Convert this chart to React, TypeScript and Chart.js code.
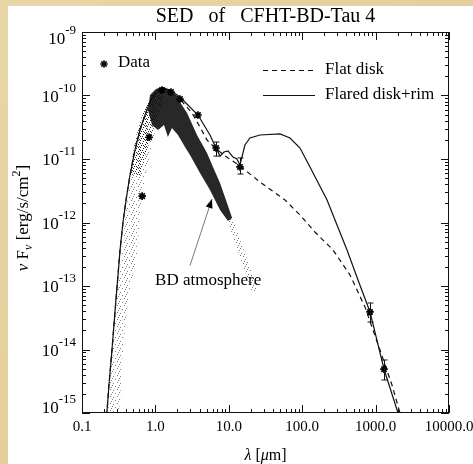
import React, { useEffect, useRef } from "react";
import { Chart, registerables } from "chart.js";

Chart.register(...registerables);

const FONT = '"Liberation Serif", "Times New Roman", serif';

// Axis ticks
const xTickValues = [0.1, 1, 10, 100, 1000, 10000];
const xTickLabels = ["0.1", "1.0", "10.0", "100.0", "1000.0", "10000.0"];
const yTickValues = [1e-15, 1e-14, 1e-13, 1e-12, 1e-11, 1e-10, 1e-9];
const yTickExponents = ["-15", "-14", "-13", "-12", "-11", "-10", "-9"];

// Observed photometry (lambda in micron, nuFnu in erg/s/cm^2)
const dataLambda = [0.66, 0.82, 1.23, 1.63, 2.16, 3.8, 6.7, 14.2, 839, 1300];
const dataFlux = [2.6e-12, 2.2e-11, 1.22e-10, 1.13e-10, 8.8e-11, 4.93e-11, 1.49e-11, 7.5e-12, 3.9e-14, 4.9e-15];
const dataErrLow = [null, null, null, null, null, null, 1.11e-11, 5.8e-12, 2.71e-14, 3.31e-15];
const dataErrHigh = [null, null, null, null, null, null, 1.85e-11, 1.04e-11, 5.4e-14, 6.84e-15];

// Shared rising (photospheric) part of both models
const riseLambda = [0.212, 0.233, 0.256, 0.29, 0.33, 0.362, 0.398, 0.451, 0.527, 0.617, 0.722, 0.844, 0.988, 1.12, 1.27];
const riseFlux = [6.5e-16, 2.76e-15, 9.8e-15, 6.0e-14, 3.7e-13, 1.02e-12, 2.26e-12, 5.6e-12, 1.39e-11, 2.86e-11, 4.93e-11, 7.9e-11, 1.06e-10, 1.27e-10, 1.31e-10];

// Flared disk + rim (solid)
const flaredLambda = [1.58, 2.16, 3.8, 5.54, 6.69, 7.59, 8.6, 9.75, 11.4, 12.9, 14.2, 16.6, 19.4, 26.6, 49.8, 68.2, 93.3, 127.7, 218, 298, 408, 576, 839, 1301, 2019, 2200];
const flaredFlux = [1.22e-10, 9.47e-11, 4.93e-11, 2.39e-11, 1.49e-11, 1.11e-11, 1.29e-11, 1.34e-11, 1.07e-11, 1.0e-11, 8.05e-12, 1.66e-11, 2.14e-11, 2.39e-11, 2.48e-11, 2.14e-11, 1.49e-11, 7.5e-12, 2.26e-12, 9.13e-13, 3.69e-13, 1.24e-13, 3.9e-14, 4.93e-15, 1.0e-15, 6.0e-16];

// Flat disk (dashed)
const flatLambda = [1.58, 2.16, 3.15, 4.05, 5.05, 6.69, 9.75, 14.2, 26.6, 58.3, 93.3, 149, 263, 448, 717, 1148, 1673, 2150, 2300];
const flatFlux = [1.18e-10, 8.81e-11, 5.3e-11, 3.19e-11, 1.99e-11, 1.44e-11, 1.04e-11, 7.76e-12, 4.34e-12, 2.26e-12, 1.31e-12, 7.09e-13, 3.69e-13, 1.49e-13, 4.67e-14, 9.8e-15, 2.76e-15, 1.0e-15, 6.0e-16];

// BD atmosphere spectrum envelopes (outlines of the dotted spectrum)
const bdLeftLambda = [0.226, 0.256, 0.3, 0.351, 0.41, 0.451, 0.527, 0.678, 0.899, 1.155, 1.35, 1.155, 0.927, 0.745, 0.617, 0.579, 0.424, 0.362, 0.33, 0.319];
const bdLeftFlux = [1e-15, 9.8e-15, 6.0e-14, 3.7e-13, 2.26e-12, 6.0e-12, 2.0e-11, 5.3e-11, 1.02e-10, 1.31e-10, 1.02e-10, 5.3e-11, 2.0e-11, 6.0e-12, 1.57e-12, 3.7e-13, 6.0e-14, 9.8e-15, 1.6e-15, 1e-15];
const bdUpperLambda = [0.451, 0.527, 0.678, 0.899, 1.155, 1.27, 1.019, 0.793, 0.617];
const bdUpperFlux = [5.6e-12, 2.0e-11, 5.3e-11, 1.02e-10, 1.31e-10, 8.49e-11, 4.11e-11, 1.66e-11, 5.6e-12];
const bdDarkLambda = [0.793, 0.844, 1.019, 1.27, 1.58, 1.91, 2.7, 3.69, 5.05, 6.09, 7.59, 9.45, 11.1, 9.75, 7.59, 5.54, 4.05, 2.96, 2.53, 2.03, 1.68, 1.48, 1.31, 1.085, 0.899];
const bdDarkFlux = [5.91e-11, 1.02e-10, 1.27e-10, 1.36e-10, 1.22e-10, 9.82e-11, 5.3e-11, 2.39e-11, 1.24e-11, 7.48e-12, 4.19e-12, 2.03e-12, 1.18e-12, 1.06e-12, 1.57e-12, 3.25e-12, 6.02e-12, 1.16e-11, 1.55e-11, 2.39e-11, 3.08e-11, 2.22e-11, 3.43e-11, 2.86e-11, 3.43e-11];
const bdTailLambda = [9.75, 11.4, 25.0, 20.7, 9.75];
const bdTailFlux = [1.31e-12, 1.09e-12, 8.65e-14, 8.04e-14, 1.02e-12];

// Annotation
const arrowTail = [2.96, 2.1e-13];
const arrowHead = [5.9, 2.34e-12];
const annotationText = "BD atmosphere";
const annotationPos = [0.99, 1.24e-13];

const titleText = "SED   of   CFHT-BD-Tau 4";

const pts = (xs: number[], ys: number[]) => xs.map((x, i) => ({ x, y: ys[i] }));

function drawStar(ctx: CanvasRenderingContext2D, x: number, y: number, r: number) {
  ctx.beginPath();
  ctx.moveTo(x - r, y); ctx.lineTo(x + r, y);
  ctx.moveTo(x, y - r); ctx.lineTo(x, y + r);
  const d = r * 0.7071;
  ctx.moveTo(x - d, y - d); ctx.lineTo(x + d, y + d);
  ctx.moveTo(x - d, y + d); ctx.lineTo(x + d, y - d);
  ctx.stroke();
}

function speckle(alphaDots: number, density: number): CanvasPattern | string {
  // deterministic stipple texture for the densely sampled model spectrum
  const c = document.createElement("canvas");
  c.width = 7; c.height = 7;
  const g = c.getContext("2d");
  if (!g) return `rgba(0,0,0,${alphaDots})`;
  const cells = [[0, 0], [3, 1], [5, 4], [1, 5], [6, 2], [2, 3], [4, 6], [0, 3], [5, 0], [3, 5], [6, 6], [1, 1], [4, 2], [2, 6]];
  g.fillStyle = `rgba(0,0,0,${alphaDots})`;
  cells.slice(0, density).forEach(([x, y]) => g.fillRect(x, y, 1, 1));
  const p = g.createPattern(c, "repeat");
  return p || `rgba(0,0,0,${alphaDots})`;
}

const overlayPlugin = {
  id: "overlay",
  beforeDraw(chart: any) {
    const { ctx, width, height } = chart;
    ctx.save();
    const g = ctx.createLinearGradient(0, 0, width, height);
    g.addColorStop(0, "#e9d6a6");
    g.addColorStop(0.5, "#e4cf9c");
    g.addColorStop(1, "#e8d5a5");
    ctx.fillStyle = g;
    ctx.fillRect(0, 0, width, height);
    ctx.fillStyle = "#ffffff";
    ctx.fillRect(8, 6, width - 8, height - 6);
    ctx.restore();
  },
  afterDraw(chart: any) {
    const { ctx, chartArea: a, scales } = chart;
    const xs = scales.x;
    const ys = scales.y;
    ctx.save();
    ctx.strokeStyle = "#111";
    ctx.fillStyle = "#000";
    ctx.lineWidth = 1;

    // frame
    ctx.strokeRect(a.left + 0.5, a.top + 0.5, a.right - a.left - 1, a.bottom - a.top - 1);

    // ticks
    ctx.beginPath();
    for (let d = -1; d <= 4; d++) {
      for (let m = 1; m <= 9; m++) {
        const v = m * Math.pow(10, d);
        if (v > 10000 * 1.0001) break;
        const px = Math.round(xs.getPixelForValue(v)) + 0.5;
        const len = m === 1 ? 8 : 4;
        ctx.moveTo(px, a.bottom); ctx.lineTo(px, a.bottom - len);
        ctx.moveTo(px, a.top); ctx.lineTo(px, a.top + len);
      }
    }
    for (let d = -15; d <= -9; d++) {
      for (let m = 1; m <= 9; m++) {
        const v = m * Math.pow(10, d);
        if (v > 1e-9 * 1.0001) break;
        const py = Math.round(ys.getPixelForValue(v)) + 0.5;
        const len = m === 1 ? 8 : 4;
        ctx.moveTo(a.left, py); ctx.lineTo(a.left + len, py);
        ctx.moveTo(a.right, py); ctx.lineTo(a.right - len, py);
      }
    }
    ctx.stroke();

    // y tick labels 10^n
    ctx.textAlign = "left";
    ctx.textBaseline = "alphabetic";
    yTickValues.forEach((v, i) => {
      const py = ys.getPixelForValue(v);
      const cy = Math.min(Math.max(py, a.top + 6), a.bottom - 6);
      const exp = yTickExponents[i];
      ctx.font = `17px ${FONT}`;
      const wb = ctx.measureText("10").width;
      ctx.font = `13px ${FONT}`;
      const we = ctx.measureText(exp).width;
      const xb = a.left - 6 - we - wb;
      ctx.font = `17px ${FONT}`;
      ctx.fillText("10", xb, cy + 6);
      ctx.font = `13px ${FONT}`;
      ctx.fillText(exp, xb + wb, cy - 4);
    });

    // error bars
    ctx.beginPath();
    dataLambda.forEach((l, i) => {
      const lo = dataErrLow[i];
      const hi = dataErrHigh[i];
      if (lo == null || hi == null) return;
      const px = Math.round(xs.getPixelForValue(l)) + 0.5;
      const y1 = ys.getPixelForValue(hi);
      const y2 = ys.getPixelForValue(lo);
      ctx.moveTo(px, y1); ctx.lineTo(px, y2);
      ctx.moveTo(px - 3, y1); ctx.lineTo(px + 3, y1);
      ctx.moveTo(px - 3, y2); ctx.lineTo(px + 3, y2);
    });
    ctx.stroke();

    // title
    ctx.textAlign = "center";
    ctx.font = `20px ${FONT}`;
    ctx.fillText(titleText, (a.left + a.right) / 2, 22);

    // legend
    ctx.textAlign = "left";
    ctx.lineWidth = 1.6;
    drawStar(ctx, 104, 64, 3.8);
    ctx.lineWidth = 1;
    ctx.font = `17px ${FONT}`;
    ctx.fillText("Data", 118, 67);
    ctx.beginPath();
    ctx.setLineDash([5, 4]);
    ctx.moveTo(263, 70.5); ctx.lineTo(315, 70.5);
    ctx.stroke();
    ctx.setLineDash([]);
    ctx.fillText("Flat disk", 325, 74);
    ctx.beginPath();
    ctx.lineWidth = 1.2;
    ctx.moveTo(263, 95.5); ctx.lineTo(315, 95.5);
    ctx.stroke();
    ctx.fillText("Flared disk+rim", 325, 99);

    // annotation arrow
    const tx = xs.getPixelForValue(arrowTail[0]);
    const ty = ys.getPixelForValue(arrowTail[1]);
    const hx = xs.getPixelForValue(arrowHead[0]);
    const hy = ys.getPixelForValue(arrowHead[1]);
    ctx.strokeStyle = "#555";
    ctx.lineWidth = 0.8;
    ctx.beginPath();
    ctx.moveTo(tx, ty); ctx.lineTo(hx, hy);
    ctx.stroke();
    const ang = Math.atan2(hy - ty, hx - tx);
    const hl = 9, hw = 3.5;
    ctx.fillStyle = "#000";
    ctx.beginPath();
    ctx.moveTo(hx, hy);
    ctx.lineTo(hx - hl * Math.cos(ang) + hw * Math.sin(ang), hy - hl * Math.sin(ang) - hw * Math.cos(ang));
    ctx.lineTo(hx - hl * Math.cos(ang) - hw * Math.sin(ang), hy - hl * Math.sin(ang) + hw * Math.cos(ang));
    ctx.closePath();
    ctx.fill();
    ctx.font = `17px ${FONT}`;
    ctx.textBaseline = "middle";
    ctx.fillText(annotationText, xs.getPixelForValue(annotationPos[0]), ys.getPixelForValue(annotationPos[1]));

    // x axis title: λ [μm]
    ctx.textBaseline = "alphabetic";
    const parts: [string, string][] = [["italic 16px", "λ"], ["16px", " ["], ["italic 16px", "μ"], ["16px", "m]"]];
    let total = 0;
    parts.forEach(([f, t]) => { ctx.font = `${f} ${FONT}`; total += ctx.measureText(t).width; });
    let cx = (a.left + a.right) / 2 - total / 2;
    parts.forEach(([f, t]) => { ctx.font = `${f} ${FONT}`; ctx.fillText(t, cx, 460); cx += ctx.measureText(t).width; });

    // y axis title: ν F_ν [erg/s/cm^2]
    ctx.save();
    ctx.translate(28, 218);
    ctx.rotate(-Math.PI / 2);
    const yparts: [string, string, number][] = [
      ["italic 17px", "ν", 0], ["17px", " F", 0], ["italic 12px", "ν", 4], ["17px", " [erg/s/cm", 0], ["12px", "2", -8], ["17px", "]", 0],
    ];
    let yt = 0;
    yparts.forEach(([f, t]) => { ctx.font = `${f} ${FONT}`; yt += ctx.measureText(t).width; });
    let yx = -yt / 2;
    yparts.forEach(([f, t, dy]) => { ctx.font = `${f} ${FONT}`; ctx.fillText(t, yx, dy); yx += ctx.measureText(t).width; });
    ctx.restore();

    ctx.restore();
  },
};

export default function App() {
  const ref = useRef<HTMLCanvasElement | null>(null);
  useEffect(() => {
    if (!ref.current) return;
    const polygon = (label: string, xs: number[], ys: number[], color: any, order: number) => ({
      label,
      data: pts(xs, ys),
      showLine: true,
      fill: "shape",
      backgroundColor: color,
      borderColor: "rgba(0,0,0,0)",
      borderWidth: 0,
      pointRadius: 0,
      order,
    });
    const chart = new Chart(ref.current, {
      type: "scatter",
      data: {
        datasets: [
          {
            label: "Data",
            data: pts(dataLambda, dataFlux),
            showLine: false,
            pointStyle: "star",
            pointRadius: 3.8,
            borderWidth: 1.7,
            borderColor: "#000",
            backgroundColor: "#000",
            order: 0,
          },
          {
            label: "Flared disk+rim",
            data: pts([...riseLambda, ...flaredLambda], [...riseFlux, ...flaredFlux]),
            showLine: true,
            borderColor: "#111",
            borderWidth: 1.2,
            pointRadius: 0,
            fill: false,
            order: 1,
          },
          {
            label: "Flat disk",
            data: pts([...riseLambda, ...flatLambda], [...riseFlux, ...flatFlux]),
            showLine: true,
            borderColor: "#111",
            borderWidth: 1.2,
            borderDash: [5, 4],
            pointRadius: 0,
            fill: false,
            order: 2,
          },
          polygon("BD dark", bdDarkLambda, bdDarkFlux, "rgba(10,10,10,0.88)", 3),
          polygon("BD upper", bdUpperLambda, bdUpperFlux, speckle(0.8, 11), 4),
          polygon("BD left", bdLeftLambda, bdLeftFlux, speckle(0.5, 5), 5),
          polygon("BD tail", bdTailLambda, bdTailFlux, speckle(0.55, 6), 6),
        ],
      } as any,
      options: {
        responsive: false,
        animation: false,
        devicePixelRatio: 1,
        layout: { padding: { left: 0, right: 24, top: 32, bottom: 0 } },
        plugins: {
          legend: { display: false },
          tooltip: { enabled: false },
          title: { display: false },
        },
        scales: {
          x: {
            type: "logarithmic",
            min: 0.1,
            max: 10000,
            grid: { display: false, drawTicks: false },
            border: { display: false },
            afterBuildTicks: (s: any) => {
              s.ticks = xTickValues.map((v) => ({ value: v }));
            },
            afterFit: (s: any) => {
              s.height = 51;
              s.paddingLeft = 0;
              s.paddingRight = 0;
            },
            ticks: {
              autoSkip: false,
              maxRotation: 0,
              padding: 5,
              color: "#000",
              font: { family: FONT, size: 15 },
              callback: (_v: any, i: number) => xTickLabels[i],
            },
          },
          y: {
            type: "logarithmic",
            min: 1e-15,
            max: 1e-9,
            grid: { display: false, drawTicks: false },
            border: { display: false },
            ticks: { display: false },
            afterFit: (s: any) => {
              s.width = 82;
              s.paddingTop = 0;
              s.paddingBottom = 0;
            },
          },
        },
      } as any,
      plugins: [overlayPlugin],
    });
    return () => chart.destroy();
  }, []);
  return (
    <div style={{ position: "absolute", left: 0, top: 0, width: 473, height: 464 }}>
      <canvas ref={ref} width={473} height={464} style={{ display: "block", width: 473, height: 464 }} />
    </div>
  );
}
